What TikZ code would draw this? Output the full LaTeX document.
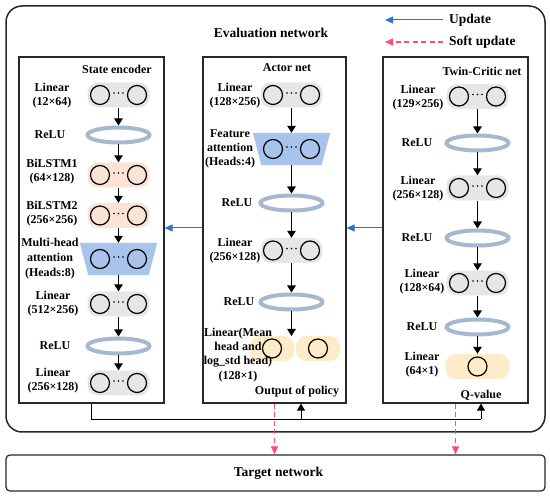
\documentclass[tikz,border=0pt]{standalone}
\usepackage{fontspec}
\setmainfont{Liberation Serif}
\usetikzlibrary{arrows.meta, shapes.geometric}

\definecolor{boxc}{RGB}{40,40,40}
\definecolor{graybl}{RGB}{230,230,230}
\definecolor{orangebl}{RGB}{251,228,213}
\definecolor{yellowbl}{RGB}{253,236,199}
\definecolor{attnbl}{RGB}{168,196,236}
\definecolor{reluc}{RGB}{165,184,207}
\definecolor{updblue}{RGB}{45,115,210}
\definecolor{softred}{RGB}{255,77,109}

\tikzset{
  lbl/.style={font=\fontsize{12}{14.2}\selectfont\bfseries, align=center, inner sep=0pt},
  ttl/.style={font=\fontsize{13.5}{16}\selectfont\bfseries, inner sep=0pt},
  blk/.style={rounded corners=10pt, minimum width=62pt, minimum height=25pt, inner sep=0pt},
  relu/.style={ellipse, draw=reluc, line width=4pt, minimum width=62pt, minimum height=15pt, inner sep=0pt},
  attn/.style={minimum width=60pt, minimum height=32pt, inner sep=0pt},
  netbox/.style={draw=boxc, line width=1.2pt, minimum width=145pt, minimum height=346pt, inner sep=0pt},
  neuron/.style={draw=black, line width=1.2pt},
  flow/.style={-{Triangle[length=7pt,width=8.5pt]}, line width=1.1pt},
  fback/.style={-{Triangle[length=7pt,width=8pt]}, line width=1pt},
  upd/.style={-{Triangle[length=8pt,width=7pt]}, updblue, line width=1pt},
  soft/.style={-{Triangle[length=8pt,width=7pt]}, softred, line width=1.1pt, dash pattern=on 5pt off 3.5pt},
}

\begin{document}
\begin{tikzpicture}[x=1pt, y=-1pt]
  \useasboundingbox (0,0) rectangle (550,497);

  % Outer frames
  \node[draw=boxc, line width=1.5pt, rounded corners=16pt, minimum width=539pt, minimum height=426pt] (evalnet) at (275.5,219) {};
  \node[draw=boxc, line width=1.2pt, rounded corners=4pt, minimum width=539pt, minimum height=36pt] (target) at (275.5,473) {};
  \node[ttl] at (271,33) {Evaluation network};
  \node[ttl] at (278.5,473) {Target network};

  % Legend
  \coordinate (legUa) at (443,20);
  \coordinate (legUb) at (385,20);
  \coordinate (legSa) at (443,42);
  \coordinate (legSb) at (385,42);
  \draw[upd] (legUa) -- (legUb);
  \draw[soft] (legSa) -- (legSb);
  \node[ttl, anchor=west] at (449,20) {Update};
  \node[ttl, anchor=west] at (449,42) {Soft update};

  % Sub-networks
  \node[netbox] (enc) at (91.5,230) {};
  \node[netbox, minimum width=143pt] (act) at (274.5,230) {};
  \node[netbox] (crit) at (455.5,230) {};
  \node[lbl] at (117,69) {State encoder};
  \node[lbl] at (287,68) {Actor net};
  \node[lbl] at (482,71) {Twin-Critic net};

  % State encoder layers
  \node[blk, fill=graybl] (s1) at (118.5,95) {};
  \node[relu] (r1) at (118.5,135) {};
  \node[blk, fill=orangebl] (s2) at (118.5,175) {};
  \node[blk, fill=orangebl] (s3) at (118.5,215.5) {};
  \node[attn] (s4) at (118.5,259) {};
  \node[blk, fill=graybl] (s5) at (118.5,304) {};
  \node[relu] (r2) at (118.5,346) {};
  \node[blk, fill=graybl] (s6) at (118.5,383) {};

  % Actor layers
  \node[blk, fill=graybl] (a1) at (291.5,95) {};
  \node[attn] (a2) at (291.5,149) {};
  \node[relu] (ar1) at (291.5,203) {};
  \node[blk, fill=graybl] (a3) at (291.5,250.5) {};
  \node[relu] (ar2) at (291.5,302) {};
  \node[blk, fill=yellowbl, minimum width=44pt] (a4l) at (272,348.5) {};
  \node[blk, fill=yellowbl, minimum width=44pt] (a4r) at (318,348.5) {};
  \coordinate (a4) at (291.5,336);

  % Attention trapezoids
  \foreach \n in {s4,a2}
    \fill[attnbl] ([xshift=-8.5pt]\n.north west) -- ([xshift=8.5pt]\n.north east)
      -- (\n.south east) -- (\n.south west) -- cycle;

  % Critic layers
  \node[blk, fill=graybl] (c1) at (477.5,96.5) {};
  \node[relu] (cr1) at (477.5,143) {};
  \node[blk, fill=graybl] (c2) at (477.5,188) {};
  \node[relu] (cr2) at (477.5,238) {};
  \node[blk, fill=graybl] (c3) at (477.5,283) {};
  \node[relu] (cr3) at (477.5,327) {};
  \node[blk, fill=yellowbl, minimum width=64pt] (c4) at (477.5,366.5) {};

  % Neurons
  \foreach \n in {s1,s2,s3,s4,s5,s6,a1,a2,a3,c1,c2,c3} {
    \draw[neuron] ([xshift=-18.5pt]\n.center) circle (9.5pt);
    \draw[neuron] ([xshift=18.5pt]\n.center) circle (9.5pt);
    \foreach \d in {-4.5,0,4.5}
      \fill ([xshift=\d pt, yshift=2pt]\n.center) circle (0.9pt);
  }
  \foreach \n in {a4l,a4r,c4}
    \draw[neuron] (\n.center) circle (9.5pt);

  % Flow arrows
  \foreach \u/\v in {s1/r1,r1/s2,s2/s3,s3/s4,s4/s5,s5/r2,r2/s6,
                     a1/a2,a2/ar1,ar1/a3,a3/ar2,
                     c1/cr1,cr1/c2,c2/cr2,cr2/c3,c3/cr3,cr3/c4}
    \draw[flow] (\u.south) -- (\v.north);
  \draw[flow] (ar2.south) -- (a4);

  % Labels
  \node[lbl] at (52,96) {Linear\\(12×64)};
  \node[lbl] at (50,135) {ReLU};
  \node[lbl] at (52,172) {BiLSTM1\\(64×128)};
  \node[lbl] at (52,214) {BiLSTM2\\(256×256)};
  \node[lbl, font=\fontsize{12}{15}\selectfont\bfseries] at (50,259) {Multi-head\\attention\\(Heads:8)};
  \node[lbl] at (53,304) {Linear\\(512×256)};
  \node[lbl] at (55,346) {ReLU};
  \node[lbl] at (53,381) {Linear\\(256×128)};

  \node[lbl] at (235,96) {Linear\\(128×256)};
  \node[lbl] at (230,149) {Feature\\attention\\(Heads:4)};
  \node[lbl] at (237,203) {ReLU};
  \node[lbl] at (235,251) {Linear\\(256×128)};
  \node[lbl] at (239,302) {ReLU};
  \node[lbl] at (238,355) {Linear(Mean\\head and\\log\_std head)\\(128×1)};
  \node[lbl] at (297,392) {Output of policy};

  \node[lbl] at (418,98) {Linear\\(129×256)};
  \node[lbl] at (417,143) {ReLU};
  \node[lbl] at (418,189) {Linear\\(256×128)};
  \node[lbl] at (417,238) {ReLU};
  \node[lbl] at (422,282) {Linear\\(128×64)};
  \node[lbl] at (422,327) {ReLU};
  \node[lbl] at (422,365) {Linear\\(64×1)};
  \node[lbl] at (481,395) {Q-value};

  % Update arrows between sub-networks
  \coordinate (updy) at (0,228);
  \draw[upd] (crit.west |- updy) -- (act.east |- updy);
  \draw[upd] (act.west |- updy) -- (enc.east |- updy);

  % Feedback from encoder
  \coordinate (fbA) at (301,419.5);
  \coordinate (fbC) at (481,419.5);
  \draw[line width=1pt] (enc.south) |- (fbA);
  \draw[fback] (fbA) -- (fbA |- act.south);
  \draw[line width=1pt] (fbA) -- (fbC);
  \draw[fback] (fbC) -- (fbC |- crit.south);

  % Soft updates to target
  \draw[soft] (act.south) -- (act.south |- target.north);
  \draw[soft] (crit.south) -- (crit.south |- target.north);
\end{tikzpicture}
\end{document}
